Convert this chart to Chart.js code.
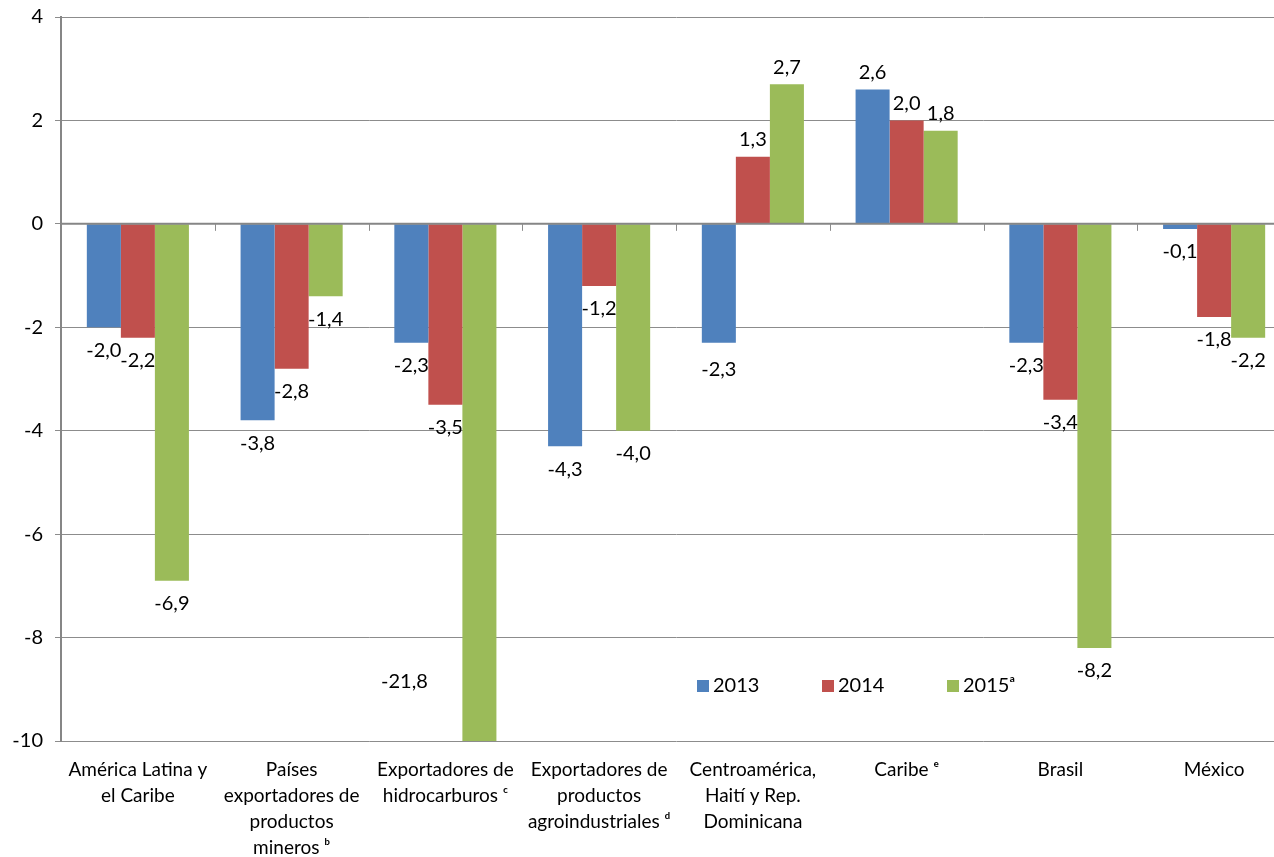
<!DOCTYPE html>
<html>
<head>
<meta charset="utf-8">
<script src="https://cdn.jsdelivr.net/npm/chart.js@4/dist/chart.umd.min.js"></script>
<style>
  html, body { margin: 0; padding: 0; background: #fff; overflow: hidden; }
  #wrap { position: relative; width: 1291px; height: 857px; }
</style>
</head>
<body>
<div id="wrap"><canvas id="chart"></canvas></div>
<script>
const categories = [
  ['América Latina y', 'el Caribe'],
  ['Países', 'exportadores de', 'productos', 'mineros ᵇ'],
  ['Exportadores de', 'hidrocarburos ᶜ'],
  ['Exportadores de', 'productos', 'agroindustriales ᵈ'],
  ['Centroamérica,', 'Haití y Rep.', 'Dominicana'],
  ['Caribe ᵉ'],
  ['Brasil'],
  ['México']
];
const years = ['2013', '2014', '2015ᵃ'];
const values2013 = [-2.0, -3.8, -2.3, -4.3, -2.3, 2.6, -2.3, -0.1];
const values2014 = [-2.2, -2.8, -3.5, -1.2, 1.3, 2.0, -3.4, -1.8];
const values2015 = [-6.9, -1.4, -21.8, -4.0, 2.7, 1.8, -8.2, -2.2];
const yTicks = [4, 2, 0, -2, -4, -6, -8, -10];

const colors = ['#4F81BD', '#C0504D', '#9BBB59'];
const gridColor = '#8c8c8c';
const FONT = 'Lato, "Open Sans", sans-serif';

// label nudges for a few labels that Excel moved by hand: "dataset,index" -> [dx, dy]
const labelNudge = {
  '0,4': [0, 4],
  '2,2': [-75, -82]
};

const fmt = v => v.toFixed(1).replace('.', ',');

// value labels next to bar ends
const valueLabels = {
  id: 'valueLabels',
  afterDatasetsDraw(chart) {
    const ctx = chart.ctx;
    const area = chart.chartArea;
    ctx.save();
    ctx.font = '20px ' + FONT;
    ctx.fillStyle = '#000';
    ctx.textAlign = 'center';
    ctx.textBaseline = 'middle';
    chart.data.datasets.forEach((ds, i) => {
      chart.getDatasetMeta(i).data.forEach((bar, j) => {
        const v = ds.data[j];
        let y = Math.min(bar.y, area.bottom);
        y += v < 0 ? 23 : -17;
        let x = bar.x;
        const n = labelNudge[i + ',' + j];
        if (n) { x += n[0]; y += n[1]; }
        ctx.fillText(fmt(v), x, y);
      });
    });
    ctx.restore();
  }
};

// category axis sits on the zero line, with tick marks between categories
const zeroAxis = {
  id: 'zeroAxis',
  afterDatasetsDraw(chart) {
    const ctx = chart.ctx;
    const area = chart.chartArea;
    const xs = chart.scales.x;
    const y0 = chart.scales.y.getPixelForValue(0);
    ctx.save();
    ctx.strokeStyle = '#868686';
    ctx.lineWidth = 2;
    ctx.beginPath();
    ctx.moveTo(area.left, y0);
    ctx.lineTo(area.right, y0);
    ctx.stroke();
    ctx.lineWidth = 1;
    ctx.strokeStyle = '#8c8c8c';
    ctx.beginPath();
    for (let i = 1; i <= categories.length; i++) {
      const bx = Math.round((xs.getPixelForValue(i - 1) + xs.getPixelForValue(i)) / 2) + 0.5;
      ctx.moveTo(bx, y0);
      ctx.lineTo(bx, y0 + 7);
    }
    ctx.stroke();
    ctx.restore();
  }
};

// legend drawn inside the plot, lower middle
const insideLegend = {
  id: 'insideLegend',
  afterDraw(chart) {
    const ctx = chart.ctx;
    ctx.save();
    ctx.font = '20px ' + FONT;
    ctx.textBaseline = 'middle';
    ctx.textAlign = 'left';
    const startX = 697, y = 686, step = 125;
    chart.data.datasets.forEach((ds, i) => {
      const x = startX + i * step;
      ctx.fillStyle = ds.backgroundColor;
      ctx.fillRect(x, y - 6, 12, 12);
      ctx.fillStyle = '#000';
      ctx.fillText(ds.label, x + 16, y);
    });
    ctx.restore();
  }
};

new Chart(document.getElementById('chart'), {
  type: 'bar',
  data: {
    labels: categories,
    datasets: [
      { label: years[0], data: values2013, backgroundColor: colors[0] },
      { label: years[1], data: values2014, backgroundColor: colors[1] },
      { label: years[2], data: values2015, backgroundColor: colors[2] }
    ]
  },
  options: {
    responsive: true,
    maintainAspectRatio: false,
    animation: false,
    categoryPercentage: 0.664,
    barPercentage: 1.0,
    layout: { padding: { top: 17, right: 0, bottom: 0, left: 0 } },
    plugins: {
      legend: { display: false },
      tooltip: { enabled: false }
    },
    scales: {
      x: {
        grid: { display: false },
        border: { display: false },
        ticks: {
          color: '#000',
          font: { family: FONT, size: 19, lineHeight: 1.37 },
          padding: 8,
          maxRotation: 0,
          autoSkip: false
        },
        afterFit(scale) { scale.height = 116; }
      },
      y: {
        min: -10,
        max: 4,
        afterBuildTicks(scale) { scale.ticks = yTicks.map(v => ({ value: v })); },
        grid: { color: gridColor, lineWidth: 1, tickLength: 6 },
        border: { color: '#868686', width: 2 },
        ticks: {
          color: '#000',
          font: { family: FONT, size: 20 },
          padding: 12,
          callback: v => String(v)
        },
        afterFit(scale) {
          scale.width = 61;
          scale.paddingTop = 0;
          scale.paddingBottom = 0;
        }
      }
    }
  },
  plugins: [zeroAxis, valueLabels, insideLegend]
});
</script>
</body>
</html>
